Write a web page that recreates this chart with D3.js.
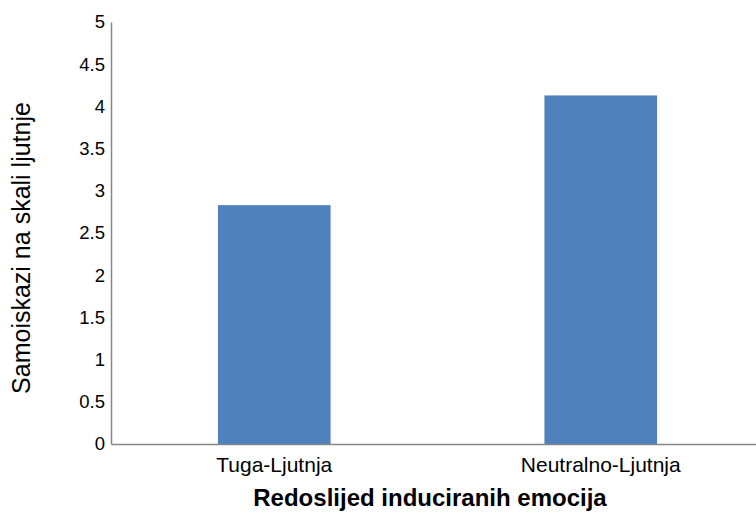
<!DOCTYPE html>
<html><head><meta charset="utf-8">
<script src="https://d3js.org/d3.v7.min.js"></script>
<style>body{margin:0;background:#fff;} svg{display:block;}</style>
</head><body>
<script>
const categories = ["Tuga-Ljutnja", "Neutralno-Ljutnja"];
const values = [2.83, 4.13];
const yTicks = [0, 0.5, 1, 1.5, 2, 2.5, 3, 3.5, 4, 4.5, 5];
const xTitle = "Redoslijed induciranih emocija";
const yTitle = "Samoiskazi na skali ljutnje";

const W = 756, H = 516;
const m = {left: 111, right: -8, top: 22, bottom: 72};
const svg = d3.select("body").append("svg").attr("width", W).attr("height", H);
const font = "'Liberation Sans', Arial, sans-serif";

const x = d3.scaleBand().domain(categories).range([m.left, W - m.right]).paddingInner(0.655).paddingOuter(0.3275);
const y = d3.scaleLinear().domain([0, 5]).range([H - m.bottom, m.top]);

svg.selectAll("rect.bar").data(values).enter().append("rect")
  .attr("x", (d, i) => x(categories[i]))
  .attr("width", x.bandwidth())
  .attr("y", d => y(d))
  .attr("height", d => y(0) - y(d))
  .attr("fill", "#4F81BD");

const ya = svg.append("g").attr("transform", `translate(${m.left},0)`)
  .call(d3.axisLeft(y).tickValues(yTicks).tickSize(0).tickPadding(6).tickFormat(d => String(d)));
ya.select(".domain").attr("stroke", "#868686").attr("stroke-width", 1.5);
ya.selectAll("text").attr("font-family", font).attr("font-size", 18.5).attr("fill", "#000");

const xa = svg.append("g").attr("transform", `translate(0,${y(0)})`)
  .call(d3.axisBottom(x).tickSize(0).tickPadding(13));
xa.select(".domain").attr("stroke", "#868686").attr("stroke-width", 1.5);
xa.selectAll("text").attr("font-family", font).attr("font-size", 21).attr("fill", "#000");

svg.append("text").attr("x", 430).attr("y", 506).attr("text-anchor", "middle")
  .attr("font-family", font).attr("font-size", 24).attr("font-weight", "bold").text(xTitle);

svg.append("text").attr("transform", `translate(30,248) rotate(-90)`)
  .attr("text-anchor", "middle").attr("font-family", font).attr("font-size", 25).text(yTitle);
</script>
</body></html>
